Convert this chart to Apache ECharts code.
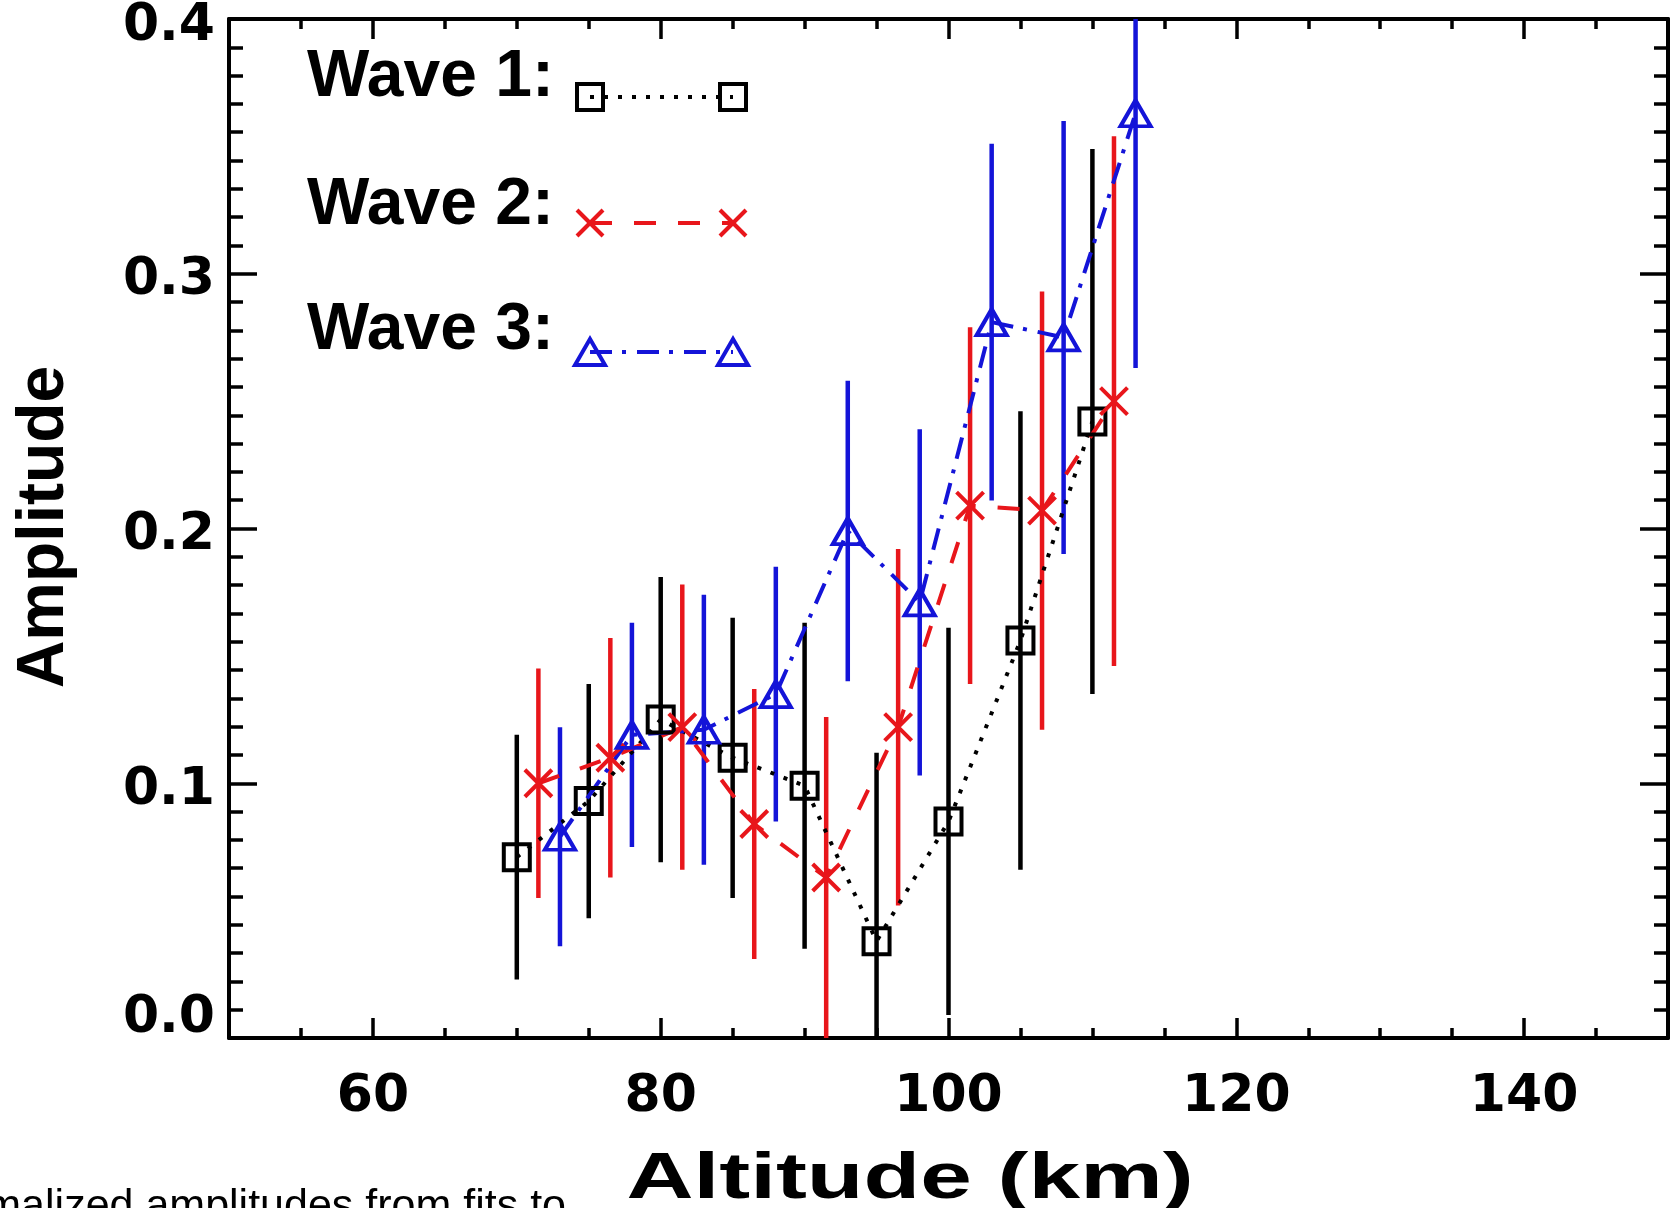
<!DOCTYPE html>
<html><head><meta charset="utf-8">
<script src="https://cdn.jsdelivr.net/npm/echarts@6/dist/echarts.min.js"></script>
<style>html,body{margin:0;padding:0;background:#fff;}#c{width:1678px;height:1208px;}</style>
</head><body><div id="c"></div>
<script>
// ---------------- data ----------------
const wave1X = [70, 75, 80, 85, 90, 95, 100, 105, 110];
const wave1Y = [0.071, 0.093, 0.125, 0.110, 0.099, 0.038, 0.085, 0.156, 0.242];
const wave1Err = [0.048, 0.046, 0.056, 0.055, 0.064, 0.074, 0.076, 0.090, 0.107];

const wave2X = [71.5, 76.5, 81.5, 86.5, 91.5, 96.5, 101.5, 106.5, 111.5];
const wave2Y = [0.100, 0.110, 0.122, 0.084, 0.063, 0.122, 0.209, 0.207, 0.250];
const wave2Err = [0.045, 0.047, 0.056, 0.053, 0.063, 0.070, 0.070, 0.086, 0.104];

const wave3X = [73, 78, 83, 88, 93, 98, 103, 108, 113];
const wave3Y = [0.079, 0.119, 0.121, 0.135, 0.199, 0.171, 0.281, 0.275, 0.363];
const wave3Err = [0.043, 0.044, 0.053, 0.050, 0.059, 0.068, 0.070, 0.085, 0.100];

const seriesNames = ['Wave 1:', 'Wave 2:', 'Wave 3:'];
const xRange = [50, 150];
const xLabelRange = [60, 140];   // labelled major ticks: 60, 80, 100, 120, 140
const xMajorStep = 20;
const xMinorStep = 5;
const yRange = [0, 0.4];
const yMajorStep = 0.1;
const xTitle = 'Altitude (km)';
const yTitle = 'Amplitude';
const caption = 'Normalized amplitudes from fits to the data for Case 3';

// ---------------- layout / style ----------------
const GL = 229, GT = 19, GW = 1439, GH = 1019;
const BLACK = '#000000', RED = '#e8161b', BLUE = '#1414d8';
const LW = 4;
const styles = [
  {color: BLACK, dash: [4, 10], symbol: 'rect', size: 26},
  {color: RED, dash: [22, 22], symbol: 'path://M0 0L20 20M20 0L0 20', size: 27},
  {color: BLUE, dash: [22, 10, 4, 11], symbol: 'triangle', size: [30, 26]}
];
const waves = [
  {x: wave1X, y: wave1Y, e: wave1Err},
  {x: wave2X, y: wave2Y, e: wave2Err},
  {x: wave3X, y: wave3Y, e: wave3Err}
];

const chart = echarts.init(document.getElementById('c'), null, {renderer: 'canvas'});

const frameLine = {show: true, onZero: false, lineStyle: {color: BLACK, width: 4}};
const tickStyle = {color: BLACK, width: 3.5};
const labelFont = {fontFamily: 'DejaVu Sans', fontWeight: 'bold', fontSize: 52, color: BLACK};

const g1Left = GL + GW * (xLabelRange[0] - xRange[0]) / (xRange[1] - xRange[0]);
const g1Width = GW * (xLabelRange[1] - xLabelRange[0]) / (xRange[1] - xRange[0]);

function xMinor(pos) {
  return {gridIndex: 0, type: 'value', position: pos, min: xRange[0], max: xRange[1], interval: xMinorStep,
    axisLine: frameLine, axisTick: {show: true, inside: true, length: 10, lineStyle: tickStyle},
    axisLabel: {show: false}, splitLine: {show: false}};
}
function xMajor(pos, showLabel) {
  return {gridIndex: 1, type: 'value', position: pos, min: xLabelRange[0], max: xLabelRange[1], interval: xMajorStep,
    axisLine: {show: false, onZero: false}, axisTick: {show: true, inside: true, length: 20, lineStyle: tickStyle},
    axisLabel: Object.assign({show: showLabel, margin: 33}, labelFont), splitLine: {show: false}};
}
function yAx(pos, showLabel) {
  return {gridIndex: 0, type: 'value', position: pos, min: yRange[0], max: yRange[1], interval: yMajorStep,
    axisLine: frameLine, axisTick: {show: true, inside: true, length: 28, lineStyle: tickStyle},
    minorTick: {show: true, splitNumber: 9, length: 14, lineStyle: tickStyle},
    axisLabel: Object.assign({show: showLabel, margin: 14,
      formatter: v => (v === yRange[0] ? '{mn|' + v.toFixed(1) + '}' : '{n|' + v.toFixed(1) + '}'),
      rich: {
        mn: Object.assign({padding: [0, 0, 40, 0]}, labelFont),
        n: Object.assign({padding: [14, 0, 0, 0]}, labelFont)
      }}, labelFont),
    splitLine: {show: false}, minorSplitLine: {show: false}};
}

const series = [];
waves.forEach((w, k) => {
  const st = styles[k];
  series.push({
    type: 'custom', name: 'err' + k, xAxisIndex: 0, yAxisIndex: 0, silent: true, z: 2,
    data: w.x.map((x, i) => [x, w.y[i], w.e[i]]),
    renderItem: (params, api) => {
      const x = api.value(0), y = api.value(1), e = api.value(2);
      const lo = Math.max(y - e, yRange[0]), hi = Math.min(y + e, yRange[1]);
      const p1 = api.coord([x, lo]), p2 = api.coord([x, hi]);
      return {type: 'line', shape: {x1: p1[0], y1: p1[1], x2: p2[0], y2: p2[1]},
        style: {stroke: st.color, lineWidth: 4.5, fill: null}};
    }
  });
});
waves.forEach((w, k) => {
  const st = styles[k];
  series.push({
    type: 'line', name: seriesNames[k], xAxisIndex: 0, yAxisIndex: 0, z: 3,
    data: w.x.map((x, i) => [x, w.y[i]]),
    symbol: st.symbol, symbolSize: st.size, showAllSymbol: true, clip: true,
    itemStyle: {color: 'rgba(0,0,0,0)', borderColor: st.color, borderWidth: LW},
    lineStyle: {color: st.color, width: LW, type: st.dash},
    emphasis: {disabled: true}
  });
});

// ---------------- legend (graphic) ----------------
const legX0 = 590, legX1 = 733;
const legTextY = [78, 206, 331];
const legSymY = [97, 223, 352];
const graphics = [];
seriesNames.forEach((name, k) => {
  const st = styles[k];
  const sy = legSymY[k];
  graphics.push({type: 'text', x: 307, y: legTextY[k], z: 10,
    style: {text: name, font: 'bold 66px "Liberation Sans", Arial, sans-serif', fill: BLACK,
      textAlign: 'left', align: 'left', textVerticalAlign: 'middle', verticalAlign: 'middle'}});
  graphics.push({type: 'line', z: 10, shape: {x1: legX0, y1: sy, x2: legX1, y2: sy},
    style: {stroke: st.color, lineWidth: LW, lineDash: st.dash}});
  [legX0, legX1].forEach(cx => {
    if (k === 0) {
      graphics.push({type: 'rect', z: 11, shape: {x: cx - 13, y: sy - 13, width: 26, height: 26},
        style: {fill: 'rgba(0,0,0,0)', stroke: st.color, lineWidth: LW}});
    } else if (k === 1) {
      graphics.push({type: 'polyline', z: 11, shape: {points: [[cx - 13, sy - 13], [cx + 13, sy + 13]]},
        style: {fill: null, stroke: st.color, lineWidth: LW}});
      graphics.push({type: 'polyline', z: 11, shape: {points: [[cx + 13, sy - 13], [cx - 13, sy + 13]]},
        style: {fill: null, stroke: st.color, lineWidth: LW}});
    } else {
      graphics.push({type: 'polygon', z: 11, shape: {points: [[cx, sy - 13], [cx + 15, sy + 13], [cx - 15, sy + 13]]},
        style: {fill: 'rgba(0,0,0,0)', stroke: st.color, lineWidth: LW}});
    }
  });
});
// caption (cut at the bottom edge)
graphics.push({type: 'text', x: -84, y: 1186, z: 5,
  style: {text: caption, font: '43px "Liberation Sans", Arial, sans-serif', fill: BLACK,
    textAlign: 'left', align: 'left', textVerticalAlign: 'top', verticalAlign: 'top'}});
// axis titles
graphics.push({type: 'rect', z: 11, shape: {x: 572, y: 1140, width: 660, height: 68}, style: {fill: '#ffffff'}});
graphics.push({type: 'text', x: 910, y: 1180, scaleX: 1.45, z: 12,
  style: {text: xTitle, font: 'bold 64px "Liberation Sans", Arial, sans-serif', fill: BLACK,
    textAlign: 'center', align: 'center', textVerticalAlign: 'middle', verticalAlign: 'middle'}});
graphics.push({type: 'text', x: 45, y: 527, rotation: Math.PI / 2, z: 12,
  style: {text: yTitle, font: 'bold 66px "Liberation Sans", Arial, sans-serif', fill: BLACK,
    textAlign: 'center', align: 'center', textVerticalAlign: 'middle', verticalAlign: 'middle'}});

chart.setOption({
  animation: false,
  backgroundColor: '#ffffff',
  grid: [
    {left: GL, top: GT, width: GW, height: GH, containLabel: false, outerBoundsMode: 'none'},
    {left: g1Left, top: GT, width: g1Width, height: GH, containLabel: false, outerBoundsMode: 'none'}
  ],
  xAxis: [xMinor('bottom'), xMinor('top'), xMajor('bottom', true), xMajor('top', false)],
  yAxis: [yAx('left', true), yAx('right', false),
    {gridIndex: 1, type: 'value', min: yRange[0], max: yRange[1], show: false}],
  series: series,
  graphic: graphics
});
</script>
</body></html>
